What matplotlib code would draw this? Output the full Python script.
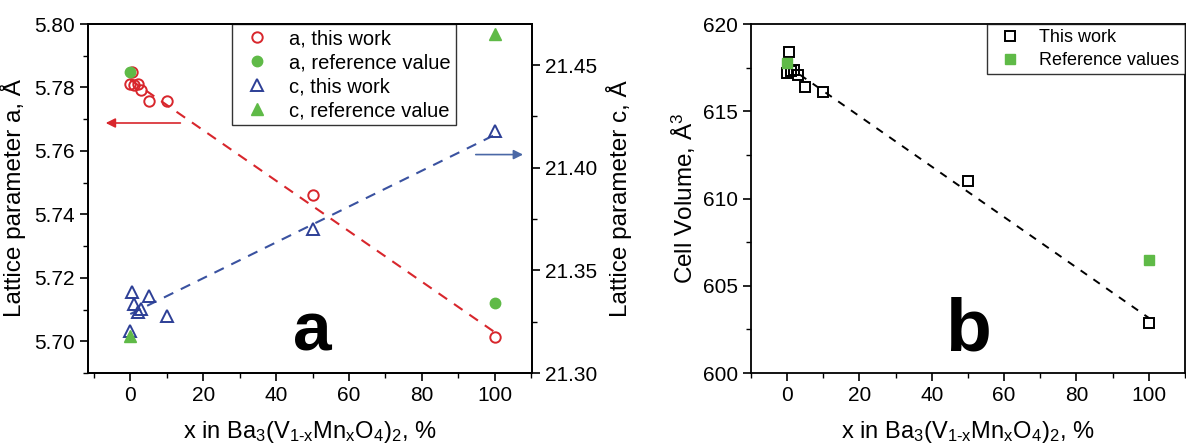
import numpy as np
import matplotlib
matplotlib.use("Agg")
from matplotlib import pyplot as plt

plt.rcParams['font.family'] = ['Liberation Sans', 'DejaVu Sans']
plt.rcParams['mathtext.fontset'] = 'custom'
plt.rcParams['mathtext.rm'] = 'Liberation Sans'
plt.rcParams['mathtext.it'] = 'Liberation Sans'

# composition, % Mn
x_work = [0, 0.4, 1, 2, 3, 5, 10, 50, 100]
# lattice parameter a, this work
a_work = [5.7811, 5.7848, 5.7809, 5.7811, 5.7792, 5.7756, 5.7756, 5.7460, 5.7012]
# lattice parameter c, this work
c_work = [21.3207, 21.3393, 21.3336, 21.3296, 21.3312, 21.3377, 21.3280, 21.3703, 21.4177]
# cell volume, this work
v_work = [617.22, 618.41, 617.30, 617.36, 617.05, 616.37, 616.08, 611.02, 602.88]

x_ref = [0, 100]
a_ref = [5.7848, 5.7121]
c_ref = [21.3178, 21.4652]
v_ref = [617.78, 606.50]

red = '#d8262c'
blue = '#2d3f96'
green = '#5fba47'

xlabel = r'x in Ba$_3$(V$_{1\text{-}x}$Mn$_x$O$_4$)$_2$, %'

fig = plt.figure(figsize=(11.86, 4.43), dpi=100)
ax1 = fig.add_axes([0.0742, 0.158, 0.3744, 0.7878])
ax2 = ax1.twinx()
ax3 = fig.add_axes([0.6332, 0.158, 0.3658, 0.7878])

ms = 7.5
mew = 1.4

# fitted trend lines
xf = np.array([0, 100])
pa = np.polyfit(x_work, a_work, 1)
pc = np.polyfit(x_work, c_work, 1)
pv = np.polyfit(x_work, v_work, 1)

ax1.plot(xf, np.polyval(pa, xf), '--', color=red, lw=1.5, dashes=(5, 4))
h1, = ax1.plot(x_work, a_work, 'o', mfc='none', mec=red, ms=ms, mew=mew, label='a, this work')
h2, = ax1.plot(x_ref, a_ref, 'o', color=green, ms=ms, label='a, reference value')
ax2.plot(xf, np.polyval(pc, xf), '--', color='#3a52a0', lw=1.5, dashes=(5, 4))
h3, = ax2.plot(x_work, c_work, '^', mfc='none', mec=blue, ms=ms + 1, mew=mew, label='c, this work')
h4, = ax2.plot(x_ref, c_ref, '^', color=green, ms=ms + 1, label='c, reference value')

ax1.set_xlim(-11.6, 110.2)
ax1.set_ylim(5.69, 5.80)
ax2.set_ylim(21.30, 21.47)
ax1.set_yticks([5.70, 5.72, 5.74, 5.76, 5.78, 5.80])
ax1.set_yticks(np.arange(5.69, 5.80, 0.02), minor=True)
ax2.set_yticks([21.30, 21.35, 21.40, 21.45])
ax2.set_yticks([21.325, 21.375, 21.425], minor=True)
ax1.yaxis.set_major_formatter(matplotlib.ticker.FormatStrFormatter('%.2f'))
ax2.yaxis.set_major_formatter(matplotlib.ticker.FormatStrFormatter('%.2f'))

ax1.annotate('', xy=(-7.5, 5.7688), xytext=(14.5, 5.7688),
             arrowprops=dict(arrowstyle='-|>', color=red, lw=1.2, mutation_scale=14))
ax2.annotate('', xy=(108.5, 21.4064), xytext=(94, 21.4064),
             arrowprops=dict(arrowstyle='-|>', color='#4a68a6', lw=1.2, mutation_scale=14))

ax1.text(50, 5.6972, 'a', fontsize=50, fontweight='bold', ha='center', va='baseline')

ax1.set_ylabel('Lattice parameter a, Å', fontsize=17.5, labelpad=6)
ax2.set_ylabel('Lattice parameter c, Å', fontsize=17.5, labelpad=6)
ax1.set_xlabel(xlabel, fontsize=17, labelpad=10)

leg = ax1.legend(handles=[h1, h2, h3, h4], loc='upper left', bbox_to_anchor=(0.324, 1.0),
                 fontsize=14.5, frameon=True, fancybox=False, edgecolor='black',
                 borderaxespad=0, handletextpad=0.6, labelspacing=0.25, borderpad=0.25)
leg.get_frame().set_linewidth(1.0)

# panel b
ax3.plot(xf, np.polyval(pv, xf), '--', color='black', lw=1.4, dashes=(4, 4))
h5, = ax3.plot(x_work, v_work, 's', mfc='none', mec='black', ms=7.5, mew=1.4, label='This work')
h6, = ax3.plot(x_ref, v_ref, 's', color=green, ms=7.5, label='Reference values')
ax3.set_xlim(-10, 110)
ax3.set_ylim(600, 620)
ax3.set_yticks([600, 605, 610, 615, 620])
ax3.set_yticks([602.5, 607.5, 612.5, 617.5], minor=True)
ax3.text(50, 601.3, 'b', fontsize=54, fontweight='bold', ha='center', va='baseline')
ax3.set_ylabel('Cell Volume, Å$^3$', fontsize=17.5, labelpad=3)
ax3.set_xlabel(xlabel, fontsize=17, labelpad=10)
leg2 = ax3.legend(handles=[h5, h6], loc='upper right', bbox_to_anchor=(1.0, 1.0),
                  fontsize=13, frameon=True, fancybox=False, edgecolor='black',
                  borderaxespad=0, handletextpad=0.6, labelspacing=0.3, borderpad=0.3)
leg2.get_frame().set_linewidth(1.0)

for ax in [ax1, ax3]:
    ax.set_xticks([0, 20, 40, 60, 80, 100])
    ax.set_xticks([-10, 10, 30, 50, 70, 90, 110], minor=True)
for ax in [ax1, ax2, ax3]:
    ax.tick_params(which='major', direction='out', length=6, width=1.2, labelsize=15)
    ax.tick_params(which='minor', direction='out', length=3.5, width=1.0)
    for s in ax.spines.values():
        s.set_linewidth(1.3)
ax1.tick_params(axis='x', which='both', top=False)
ax3.tick_params(axis='both', which='both', top=False, right=False)

fig.savefig('out.png', dpi=100)
